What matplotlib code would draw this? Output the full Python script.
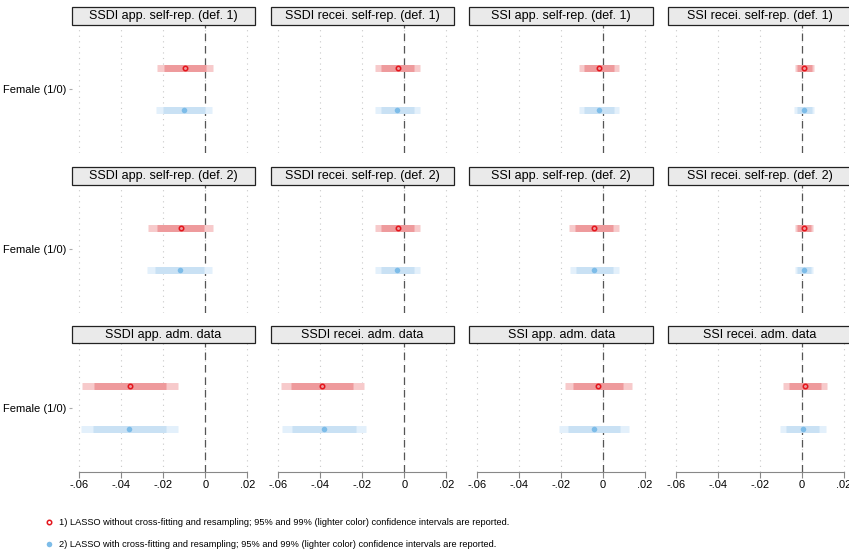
import matplotlib
matplotlib.use("Agg")
from matplotlib import pyplot as plt
from matplotlib.patches import Rectangle
from matplotlib.lines import Line2D

plt.rcParams['font.family'] = ['Liberation Sans', 'DejaVu Sans']

# panel titles, row by row
titles = ['SSDI app. self-rep. (def. 1)', 'SSDI recei. self-rep. (def. 1)',
          'SSI app. self-rep. (def. 1)', 'SSI recei. self-rep. (def. 1)',
          'SSDI app. self-rep. (def. 2)', 'SSDI recei. self-rep. (def. 2)',
          'SSI app. self-rep. (def. 2)', 'SSI recei. self-rep. (def. 2)',
          'SSDI app. adm. data', 'SSDI recei. adm. data',
          'SSI app. adm. data', 'SSI recei. adm. data']

# 1) LASSO without cross-fitting (red)
est1 = [-0.0097, -0.0031, -0.0019, 0.0011,
        -0.0118, -0.0031, -0.0043, 0.0010,
        -0.0360, -0.0390, -0.0022, 0.0014]
lo95_1 = [-0.0195, -0.0111, -0.0092, -0.0025,
          -0.0232, -0.0111, -0.0132, -0.0025,
          -0.0529, -0.0540, -0.0143, -0.0062]
hi95_1 = [0.0002, 0.0048, 0.0052, 0.0049,
          -0.0005, 0.0046, 0.0046, 0.0044,
          -0.0188, -0.0243, 0.0095, 0.0090]
lo99_1 = [-0.0229, -0.0138, -0.0114, -0.0032,
          -0.0271, -0.0138, -0.0160, -0.0033,
          -0.0588, -0.0587, -0.0182, -0.0089]
hi99_1 = [0.0035, 0.0075, 0.0078, 0.0057,
          0.0035, 0.0075, 0.0075, 0.0054,
          -0.0130, -0.0192, 0.0137, 0.0118]

# 2) LASSO with cross-fitting (blue)
est2 = [-0.0101, -0.0033, -0.0019, 0.0010,
        -0.0122, -0.0033, -0.0043, 0.0011,
        -0.0362, -0.0384, -0.0043, 0.0006]
lo95_2 = [-0.0200, -0.0111, -0.0092, -0.0025,
          -0.0238, -0.0111, -0.0130, -0.0025,
          -0.0535, -0.0535, -0.0167, -0.0076]
hi95_2 = [-0.0002, 0.0048, 0.0051, 0.0048,
          -0.0005, 0.0046, 0.0046, 0.0044,
          -0.0188, -0.0232, 0.0083, 0.0084]
lo99_2 = [-0.0233, -0.0138, -0.0114, -0.0035,
          -0.0276, -0.0138, -0.0159, -0.0033,
          -0.0592, -0.0583, -0.0208, -0.0103]
hi99_2 = [0.0033, 0.0075, 0.0076, 0.0057,
          0.0033, 0.0075, 0.0075, 0.0054,
          -0.0130, -0.0182, 0.0122, 0.0113]

xticks = [-0.06, -0.04, -0.02, 0, 0.02]
xticklabels = ['-.06', '-.04', '-.02', '0', '.02']
ylabel = 'Female (1/0)'
legend_labels = ['1) LASSO without cross-fitting and resampling; 95% and 99% (lighter color) confidence intervals are reported.',
                 '2) LASSO with cross-fitting and resampling; 95% and 99% (lighter color) confidence intervals are reported.']

W, H = 849, 555
fig = plt.figure(figsize=(W / 100, H / 100), dpi=100)

col_left = [71.7, 270.7, 469.4, 668.2]
row_top = [24.7, 184.7, 343.3]
aw, ah = 183.6, 128.7
box_h = 17.4

red99, red95, redpt = '#F7CACB', '#EE9A9C', '#E3141B'
blu99, blu95, blupt = '#E3F0FB', '#C9E1F4', '#7DBCE8'

for i in range(12):
    r, c = divmod(i, 4)
    ax = fig.add_axes([col_left[c] / W, 1 - (row_top[r] + ah) / H, aw / W, ah / H])
    ax.set_xlim(-0.0636, 0.0238)
    ax.set_ylim(-1, 1)
    for x in xticks:
        ax.axvline(x, color='#C8C8C8', lw=0.8, ls=(0, (1, 4)), zorder=0)
    ax.axvline(0, color='#555555', lw=0.9, ls=(0, (6, 4)), zorder=1)

    ax.hlines(0.33, lo99_1[i], hi99_1[i], color=red99, lw=5, capstyle='butt', zorder=2)
    ax.hlines(0.33, lo95_1[i], hi95_1[i], color=red95, lw=5, capstyle='butt', zorder=3)
    ax.plot(est1[i], 0.33, 'o', ms=3.2, mfc='none', mec=redpt, mew=1.1, zorder=4)
    ax.hlines(-0.33, lo99_2[i], hi99_2[i], color=blu99, lw=5, capstyle='butt', zorder=2)
    ax.hlines(-0.33, lo95_2[i], hi95_2[i], color=blu95, lw=5, capstyle='butt', zorder=3)
    ax.plot(est2[i], -0.33, 'o', ms=4, color=blupt, mec=blupt, mew=0, zorder=4)

    for s in ['top', 'right', 'left']:
        ax.spines[s].set_visible(False)
    if c == 0:
        ax.set_yticks([0])
        ax.set_yticklabels([ylabel], fontsize=8)
        ax.tick_params(axis='y', length=2, color='#AAAAAA', pad=2)
    else:
        ax.set_yticks([])
    if r == 2:
        ax.spines['bottom'].set_bounds(-0.06, 0.02)
        ax.spines['bottom'].set_color('#888888')
        ax.spines['bottom'].set_linewidth(0.8)
        ax.set_xticks(xticks)
        ax.set_xticklabels(xticklabels, fontsize=8)
        ax.tick_params(axis='x', length=4, color='#888888', pad=2)
    else:
        ax.spines['bottom'].set_visible(False)
        ax.set_xticks([])

    hb = box_h / ah
    ax.add_patch(Rectangle((0, 1), 1, hb, transform=ax.transAxes, facecolor='#EAEAEA',
                           edgecolor='#222222', lw=0.9, clip_on=False))
    ax.text(0.5, 1 + hb / 2, titles[i], transform=ax.transAxes, ha='center', va='center',
            fontsize=9)

handles = [Line2D([], [], ls='none', marker='o', ms=3.2, mfc='none', mec=redpt, mew=1.1),
           Line2D([], [], ls='none', marker='o', ms=4, color=blupt, mew=0)]
fig.legend(handles, legend_labels, loc='upper left', bbox_to_anchor=(35 / W, 1 - 510 / H),
           frameon=False, handlelength=1.2, handletextpad=0.5, labelspacing=1.35,
           prop={'family': 'Liberation Sans', 'size': 6.7})

fig.savefig('out.png', dpi=100)
